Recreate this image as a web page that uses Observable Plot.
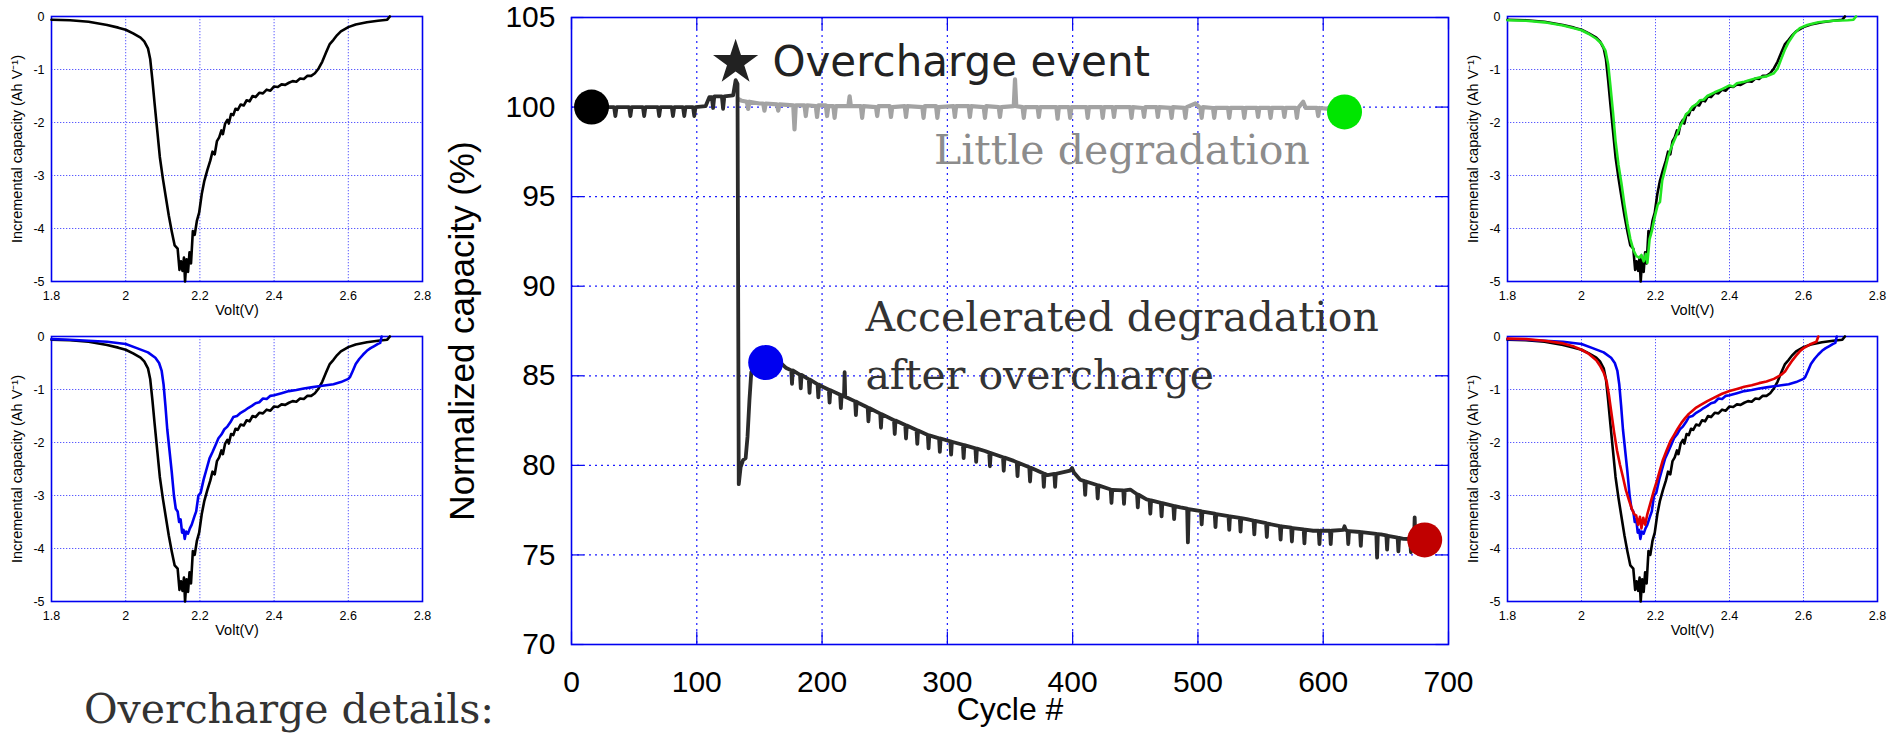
<!DOCTYPE html>
<html><head><meta charset="utf-8">
<script src="https://cdn.jsdelivr.net/npm/d3@7"></script>
<script src="https://cdn.jsdelivr.net/npm/@observablehq/plot@0.6"></script>
<style>
html,body{margin:0;padding:0;background:#fff;overflow:hidden;}
#root{position:relative;width:1890px;height:736px;overflow:hidden;}
.panel{position:absolute;}
.panel svg{max-width:none !important;display:block;}
#caption{position:absolute;left:84px;top:689px;font-family:"DejaVu Serif",serif;font-size:41px;line-height:41px;color:#333;white-space:nowrap;}
</style></head><body>
<div id="root">
  <div class="panel" id="main" style="left:420px;top:0px"></div>
  <div class="panel" id="tl" style="left:0px;top:0px"></div>
  <div class="panel" id="bl" style="left:0px;top:320px"></div>
  <div class="panel" id="tr" style="left:1456px;top:0px"></div>
  <div class="panel" id="br" style="left:1456px;top:320px"></div>
  <div id="caption">Overcharge details:</div>
</div>
<script>
// ---------------- DATA ----------------
const cycleTicks = [0, 100, 200, 300, 400, 500, 600, 700];
const capacityTicks = [70, 75, 80, 85, 90, 95, 100, 105];
const voltTicks = [1.8, 2, 2.2, 2.4, 2.6, 2.8];
const icTicks = [0, -1, -2, -3, -4, -5];

// normalized capacity (%) vs cycle, cell that got overcharged
const overchargedCell = [
[16,100.0],[34,100.0],[35,99.5],[36,100.0],[46,100.0],[47,99.5],[48,100.0],[57,100.0],[58,99.5],[59,100.0],
[69,100.0],[70,99.5],[71,100.0],[80,100.0],[81,99.5],[82,100.0],[89,100.0],[90,99.5],[91,100.0],[97,100.0],
[98,99.5],[99,100.0],[107,100.05],[110,100.55],[112,100.55],[113,99.95],[114,100.6],[120,100.6],[121,99.9],[122,100.6],
[129,100.65],[131,101.5],[132.5,101.3],[133.5,78.95],[135,79.9],[137,80.3],[139,80.4],[140.5,81.6],[142,83.6],[143.5,85.2],
[146,85.6],[150,85.7],[160,85.7],[165,85.6],[168,85.65],[171,85.45],
[175.4,85.3],[176,84.55],[176.6,85.3],[182.4,85.05],[183,84.3],[183.6,85.05],
[189.4,84.8],[190,84.05],[190.6,84.78],[196.4,84.52],[197,83.8],[197.6,84.5],[200,84.4],
[205.4,84.22],[206,83.5],[206.6,84.2],[214.4,83.94],[215,83.2],[215.6,83.92],
[217.5,83.85],[218,85.2],[218.5,83.83],[226.4,83.57],[227,82.8],[227.6,83.55],[230,83.45],
[236.4,83.23],[237,82.45],[237.6,83.2],[246.4,82.89],[247,82.1],[247.6,82.86],
[257.4,82.52],[258,81.75],[258.6,82.5],[266.4,82.25],[267,81.5],[267.6,82.22],
[275.4,81.97],[276,81.2],[276.6,81.94],[284.4,81.7],[285,80.95],[285.6,81.67],
[293.4,81.51],[294,80.75],[294.6,81.5],[302.4,81.34],[303,80.6],[303.6,81.32],
[312.4,81.15],[313,80.4],[313.6,81.13],[322.4,80.95],[323,80.2],[323.6,80.93],[330,80.8],
[333.4,80.71],[334,79.95],[334.6,80.69],[344.4,80.45],[345,79.7],[345.6,80.43],[353,80.25],
[355.4,80.17],[356,79.4],[356.6,80.15],[365.4,79.89],[366,79.1],[366.6,79.86],
[376.4,79.56],[377,78.8],[377.6,79.53],[380,79.45],[385.4,79.52],[386,78.8],[386.6,79.53],
[398,79.7],[399.5,79.85],[401,79.6],[406,79.2],
[409.4,79.12],[410,78.35],[410.6,79.1],[419.4,78.9],[420,78.15],[420.6,78.88],
[430.4,78.65],[431,77.9],[431.6,78.63],[440.4,78.6],[441,77.85],[441.6,78.6],[446,78.65],
[451.4,78.39],[452,77.65],[452.6,78.36],[459,78.1],[461.4,78.06],[462,77.3],[462.6,78.04],
[470.4,77.91],[471,77.15],[471.6,77.89],[480.4,77.74],[481,77.0],[481.6,77.72],[486,77.65],
[491.4,77.58],[492,75.7],[492.6,77.56],[502.4,77.44],[503,76.7],[503.6,77.42],
[513.4,77.3],[514,76.55],[514.6,77.28],[524.4,77.17],[525,76.4],[525.6,77.15],
[533.4,77.07],[534,76.3],[534.6,77.05],[539,77.0],[544.4,76.92],[545,76.15],[545.6,76.9],
[554.4,76.77],[555,76.0],[555.6,76.75],[565.4,76.61],[566,75.85],[566.6,76.6],
[574.4,76.52],[575,75.75],[575.6,76.5],[584.4,76.43],[585,75.65],[585.6,76.41],[592,76.35],
[596.4,76.36],[597,75.6],[597.6,76.35],[605.4,76.35],[606,75.6],[606.6,76.35],
[616,76.4],[617,76.6],[618,76.4],[619.4,76.34],[620,75.6],[620.6,76.33],
[629.4,76.28],[630,75.5],[630.6,76.27],[642.4,76.18],[643,74.85],[643.6,76.16],[646,76.15],
[650.4,76.09],[651,75.3],[651.6,76.07],[659.4,75.97],[660,75.2],[660.6,75.95],[664,75.9],
[669.4,75.89],[670,75.15],[670.6,75.88],[672.5,75.88],[673,77.1],[673.5,75.88],[680,75.85]
];

// normalized capacity (%) vs cycle, cell cycled without overcharge
const normalCell = [
[133,100.45],[136,100.35],[140,100.3],[141,99.9],[142,100.3],[150,100.2],[153,100.2],[154,99.8],[155,100.2],
[164,100.15],[165,99.8],[166,100.15],[177,100.1],[178,98.75],[179,100.1],[186,100.1],[187,99.5],[188,100.1],
[195,100.05],[196,99.45],[197,100.1],[203,100.1],[204,99.5],[205,100.05],[209,100.05],[210,99.4],[211,100.05],
[221,100.05],[222,100.6],[223,100.05],[231,100.05],[232,99.4],[233,100.05],[243,100.0],[244,99.5],[245,100.05],
[254,100.05],[255,99.45],[256,100.0],[266,100.05],[267,99.45],[268,100.05],[280,100.0],[281,99.4],[282,100.05],
[291,100.05],[292,99.4],[293,100.0],[305,100.05],[306,99.45],[307,100.05],[317,100.05],[318,99.45],[319,100.05],
[329,100.0],[330,99.4],[331,100.05],[341,100.0],[342,99.45],[343,100.0],[353,100.05],[354,101.55],[355,100.05],
[360,100.0],[361,99.4],[362,100.0],[372,100.0],[373,99.45],[374,100.0],[387,100.0],[388,99.35],[389,100.0],
[397,100.0],[398,99.4],[399,100.0],[411,100.0],[412,99.4],[413,100.0],[423,100.0],[424,99.4],[425,100.0],
[432,100.0],[433,99.45],[434,100.0],[446,100.0],[447,99.4],[448,100.0],[456,99.95],[457,99.45],[458,100.0],
[467,100.0],[468,99.45],[469,100.0],[478,99.95],[479,99.4],[480,100.0],[489,99.95],[490,99.4],[491,100.0],
[498,100.2],[502,99.95],[503,99.4],[504,100.0],[512,99.95],[513,99.4],[514,99.95],[524,99.95],[525,99.4],[526,99.95],
[536,99.95],[537,99.4],[538,99.95],[547,99.95],[548,99.45],[549,99.95],[557,99.95],[558,99.4],[559,99.95],
[568,99.95],[569,99.45],[570,99.95],[578,99.95],[579,99.4],[580,99.95],[584,100.3],[586,99.95],
[595,99.95],[596,99.5],[597,99.95],[605,99.9],[612,99.8]
];

// marked checkpoints on the capacity curves
const checkpointNames = ["start", "after overcharge", "no overcharge end", "overcharged end"];
const checkpointCycles = [16, 155, 617, 681];
const checkpointValues = [100.0, 85.74, 99.73, 75.84];

const overchargeEvent = [{cycle: 131, value: 102.49}];

const annotationTexts = ["Overcharge event", "Little degradation", "Accelerated degradation", "after overcharge"];
const annotationCycles = [160.4, 289.3, 234.6, 234.6];
const annotationValues = [101.75, 96.85, 87.51, 84.27];

// incremental capacity (Ah/V) vs voltage
const icaFirstCycle = [
[1.80,-0.06],[1.85,-0.07],[1.90,-0.10],[1.95,-0.16],[1.98,-0.21],[2.00,-0.25],[2.02,-0.32],[2.04,-0.40],[2.05,-0.47],
[2.06,-0.60],[2.066,-0.80],[2.072,-1.20],[2.078,-1.65],[2.085,-2.15],[2.092,-2.65],[2.10,-3.05],[2.108,-3.40],
[2.116,-3.75],[2.124,-4.05],[2.132,-4.32],[2.140,-4.38],[2.145,-4.78],[2.149,-4.62],[2.153,-4.80],[2.157,-4.55],
[2.160,-5.00],[2.164,-4.58],[2.168,-4.82],[2.172,-4.45],[2.176,-4.66],[2.181,-4.05],[2.186,-4.12],[2.192,-3.85],
[2.198,-3.70],[2.205,-3.35],[2.212,-3.10],[2.220,-2.90],[2.228,-2.72],[2.234,-2.55],[2.240,-2.60],[2.246,-2.35],
[2.252,-2.28],[2.258,-2.15],[2.262,-2.22],[2.268,-2.02],[2.274,-1.95],[2.278,-2.02],[2.284,-1.84],[2.290,-1.86],
[2.296,-1.74],[2.302,-1.76],[2.31,-1.66],[2.318,-1.68],[2.326,-1.58],[2.334,-1.60],[2.342,-1.50],[2.35,-1.52],
[2.36,-1.44],[2.37,-1.45],[2.38,-1.38],[2.39,-1.40],[2.40,-1.32],[2.41,-1.33],[2.42,-1.28],[2.43,-1.29],[2.44,-1.25],
[2.45,-1.22],[2.46,-1.23],[2.47,-1.17],[2.48,-1.18],[2.49,-1.12],[2.50,-1.12],[2.51,-1.07],[2.52,-0.98],[2.53,-0.85],
[2.54,-0.68],[2.55,-0.52],[2.56,-0.44],[2.57,-0.35],[2.58,-0.28],[2.60,-0.20],[2.62,-0.15],[2.65,-0.11],[2.68,-0.08],
[2.705,-0.06],[2.712,0.0]
];
const icaAfterOvercharge = [
[1.80,-0.05],[1.85,-0.06],[1.90,-0.08],[1.95,-0.10],[2.00,-0.14],[2.03,-0.22],[2.06,-0.30],[2.08,-0.40],[2.09,-0.50],
[2.097,-0.65],[2.102,-0.90],[2.107,-1.30],[2.112,-1.75],[2.118,-2.15],[2.124,-2.55],[2.130,-3.00],[2.135,-3.25],
[2.140,-3.30],[2.144,-3.50],[2.148,-3.45],[2.152,-3.70],[2.156,-3.65],[2.159,-3.82],[2.163,-3.68],[2.168,-3.72],
[2.173,-3.62],[2.178,-3.55],[2.185,-3.40],[2.19,-3.30],[2.196,-3.00],[2.202,-2.95],[2.21,-2.70],[2.218,-2.50],
[2.226,-2.30],[2.234,-2.18],[2.242,-2.05],[2.25,-1.92],[2.258,-1.85],[2.266,-1.75],[2.274,-1.70],[2.282,-1.62],
[2.29,-1.52],[2.30,-1.50],[2.31,-1.44],[2.32,-1.40],[2.33,-1.35],[2.34,-1.31],[2.35,-1.26],[2.36,-1.24],[2.37,-1.17],
[2.38,-1.18],[2.39,-1.12],[2.40,-1.11],[2.42,-1.07],[2.44,-1.03],[2.46,-1.01],[2.48,-0.98],[2.50,-0.96],[2.52,-0.94],
[2.54,-0.92],[2.56,-0.90],[2.58,-0.86],[2.60,-0.80],[2.605,-0.76],[2.612,-0.65],[2.62,-0.52],[2.63,-0.42],[2.64,-0.34],
[2.65,-0.27],[2.66,-0.22],[2.67,-0.18],[2.68,-0.14],[2.686,-0.12],[2.69,0.0]
];
const icaNoOverchargeEnd = [
[1.80,-0.07],[1.85,-0.08],[1.90,-0.11],[1.95,-0.17],[1.98,-0.22],[2.00,-0.26],[2.02,-0.33],[2.04,-0.42],[2.055,-0.52],
[2.065,-0.65],[2.072,-0.90],[2.078,-1.30],[2.085,-1.80],[2.092,-2.35],[2.10,-2.80],[2.108,-3.15],[2.116,-3.55],
[2.124,-3.90],[2.132,-4.20],[2.140,-4.40],[2.148,-4.52],[2.156,-4.55],[2.162,-4.50],[2.168,-4.62],[2.174,-4.48],
[2.178,-4.65],[2.184,-4.20],[2.19,-4.05],[2.198,-3.78],[2.206,-3.55],[2.212,-3.50],[2.218,-3.10],[2.226,-2.88],
[2.234,-2.65],[2.242,-2.48],[2.25,-2.35],[2.258,-2.22],[2.266,-2.08],[2.274,-1.98],[2.282,-1.85],[2.29,-1.80],
[2.30,-1.70],[2.31,-1.66],[2.32,-1.58],[2.33,-1.57],[2.34,-1.50],[2.36,-1.43],[2.38,-1.37],[2.40,-1.30],[2.41,-1.32],
[2.42,-1.26],[2.44,-1.23],[2.46,-1.19],[2.48,-1.15],[2.50,-1.13],[2.51,-1.10],[2.52,-1.07],[2.53,-0.98],[2.54,-0.80],
[2.55,-0.62],[2.56,-0.48],[2.575,-0.32],[2.59,-0.22],[2.61,-0.16],[2.64,-0.11],[2.68,-0.08],[2.72,-0.07],[2.735,-0.06],
[2.742,0.0]
];
const icaOverchargedEnd = [
[1.80,-0.04],[1.85,-0.05],[1.90,-0.08],[1.95,-0.13],[1.98,-0.19],[2.00,-0.25],[2.02,-0.33],[2.04,-0.45],[2.05,-0.55],
[2.06,-0.68],[2.068,-0.85],[2.074,-1.10],[2.08,-1.40],[2.088,-1.80],[2.096,-2.15],[2.104,-2.42],[2.112,-2.65],
[2.12,-2.90],[2.128,-3.08],[2.136,-3.25],[2.142,-3.35],[2.148,-3.38],[2.153,-3.55],[2.158,-3.40],[2.162,-3.62],
[2.167,-3.42],[2.172,-3.55],[2.178,-3.35],[2.184,-3.20],[2.19,-3.05],[2.196,-2.90],[2.204,-2.72],[2.212,-2.52],
[2.22,-2.33],[2.23,-2.15],[2.24,-1.98],[2.25,-1.86],[2.26,-1.74],[2.27,-1.63],[2.28,-1.54],[2.29,-1.46],[2.30,-1.40],
[2.31,-1.34],[2.32,-1.30],[2.34,-1.22],[2.36,-1.15],[2.38,-1.08],[2.40,-1.03],[2.42,-0.99],[2.44,-0.95],[2.46,-0.92],
[2.48,-0.88],[2.50,-0.85],[2.52,-0.80],[2.54,-0.72],[2.55,-0.66],[2.56,-0.55],[2.57,-0.45],[2.58,-0.36],[2.59,-0.28],
[2.60,-0.22],[2.61,-0.18],[2.62,-0.14],[2.635,-0.10],[2.64,0.0]
];

// ---------------- CHARTS ----------------
const SANS = "'Liberation Sans', Arial, sans-serif";
const checkpoints = checkpointNames.map((name, i) => ({name, cycle: checkpointCycles[i], value: checkpointValues[i]}));
const annotations = annotationTexts.map((label, i) => ({label, cycle: annotationCycles[i], value: annotationValues[i]}));

const gridBlue = "#1c1cff";
const frameBlue = "#0000f0";

const main = Plot.plot({
  width: 1060, height: 736,
  marginLeft: 151, marginRight: 32, marginTop: 17, marginBottom: 92,
  style: {background: "transparent", fontFamily: SANS, fontSize: "30px", color: "#000", overflow: "visible"},
  x: {domain: [0, 700], label: null},
  y: {domain: [70, 105], label: null},
  color: {domain: checkpointNames, range: ["#000000", "#0000f0", "#00e600", "#c00000"]},
  marks: [
    Plot.gridX(cycleTicks.slice(1, -1), {stroke: gridBlue, strokeOpacity: 1, strokeWidth: 1.2, strokeDasharray: "2,4"}),
    Plot.gridY(capacityTicks.slice(1, -1), {stroke: gridBlue, strokeOpacity: 1, strokeWidth: 1.2, strokeDasharray: "2,4"}),
    Plot.ruleX(cycleTicks, {y1: 70, y2: 70.7, stroke: frameBlue, strokeWidth: 1.2}),
    Plot.ruleX(cycleTicks, {y1: 105, y2: 104.3, stroke: frameBlue, strokeWidth: 1.2}),
    Plot.ruleY(capacityTicks, {x1: 0, x2: 10, stroke: frameBlue, strokeWidth: 1.2}),
    Plot.ruleY(capacityTicks, {x1: 700, x2: 690, stroke: frameBlue, strokeWidth: 1.2}),
    Plot.frame({stroke: frameBlue, strokeWidth: 1.6}),
    Plot.axisX(cycleTicks, {tickSize: 0, tickPadding: 26, fontSize: 30, tickFormat: d => String(d)}),
    Plot.axisY(capacityTicks, {tickSize: 0, tickPadding: 16, fontSize: 30, tickFormat: d => String(d)}),
    Plot.line(normalCell, {stroke: "#a3a3a3", strokeWidth: 4.2}),
    Plot.line(overchargedCell, {stroke: "#2b2b2b", strokeWidth: 3.8}),
    Plot.dot(checkpoints, {x: "cycle", y: "value", r: 17.5, fill: "name", stroke: null}),
    Plot.dot(overchargeEvent, {x: "cycle", y: "value", symbol: "star", r: 14.2, fill: "#222", stroke: null}),
    Plot.text(annotations.slice(0, 1), {x: "cycle", y: "value", text: "label", textAnchor: "start", lineAnchor: "bottom", fontFamily: "'DejaVu Sans', sans-serif", fontSize: 42, fill: "#222"}),
    Plot.text(annotations.slice(1, 2), {x: "cycle", y: "value", text: "label", textAnchor: "start", lineAnchor: "bottom", fontFamily: "'DejaVu Serif', serif", fontSize: 41, fill: "#8c8c8c"}),
    Plot.text(annotations.slice(2), {x: "cycle", y: "value", text: "label", textAnchor: "start", lineAnchor: "bottom", fontFamily: "'DejaVu Serif', serif", fontSize: 41, fill: "#333"}),
    Plot.text(["Cycle #"], {frameAnchor: "bottom", textAnchor: "middle", dy: 75, fontSize: 32, fill: "#000"}),
    Plot.text(["Normalized capacity (%)"], {frameAnchor: "left", textAnchor: "middle", rotate: -90, dx: -109, dy: 0, fontSize: 35, fill: "#000"})
  ]
});
document.getElementById("main").appendChild(main);

function icaChart(series, width, marginRight) {
  return Plot.plot({
    width, height: 330,
    marginLeft: 51, marginRight, marginTop: 16, marginBottom: 49,
    style: {background: "transparent", fontFamily: SANS, fontSize: "12.5px", color: "#000", overflow: "visible"},
    x: {domain: [1.8, 2.8], label: null},
    y: {domain: [-5, 0], label: null},
    marks: [
      Plot.gridX(voltTicks.slice(1, -1), {stroke: "#5a5aff", strokeOpacity: 1, strokeWidth: 1, strokeDasharray: "1.3,1.7"}),
      Plot.gridY(icTicks.slice(1, -1), {stroke: "#5a5aff", strokeOpacity: 1, strokeWidth: 1, strokeDasharray: "1.3,1.7"}),
      Plot.frame({stroke: frameBlue, strokeWidth: 1.6}),
      Plot.axisX(voltTicks, {tickSize: 0, tickPadding: 10, fontSize: 12.5, tickFormat: d => String(d)}),
      Plot.axisY(icTicks, {tickSize: 0, tickPadding: 7, fontSize: 12.5, tickFormat: d => String(d)}),
      ...series.map(s => Plot.line(s.data, {stroke: s.color, strokeWidth: 2.6})),
      Plot.text(["Volt(V)"], {frameAnchor: "bottom", textAnchor: "middle", dy: 33, fontSize: 14.5, fill: "#000"}),
      Plot.text(["Incremental capacity (Ah V\u207B\u00B9)"], {frameAnchor: "left", textAnchor: "middle", rotate: -90, dx: -34, fontSize: 14.5, fill: "#000"})
    ]
  });
}

document.getElementById("tl").appendChild(icaChart([{data: icaFirstCycle, color: "#000"}], 430, 8));
document.getElementById("bl").appendChild(icaChart([{data: icaFirstCycle, color: "#000"}, {data: icaAfterOvercharge, color: "#0000f0"}], 430, 8));
document.getElementById("tr").appendChild(icaChart([{data: icaFirstCycle, color: "#000"}, {data: icaNoOverchargeEnd, color: "#22e622"}], 430, 9));
document.getElementById("br").appendChild(icaChart([{data: icaFirstCycle, color: "#000"}, {data: icaAfterOvercharge, color: "#0000f0"}, {data: icaOverchargedEnd, color: "#e00000"}], 430, 9));
</script>
</body></html>
